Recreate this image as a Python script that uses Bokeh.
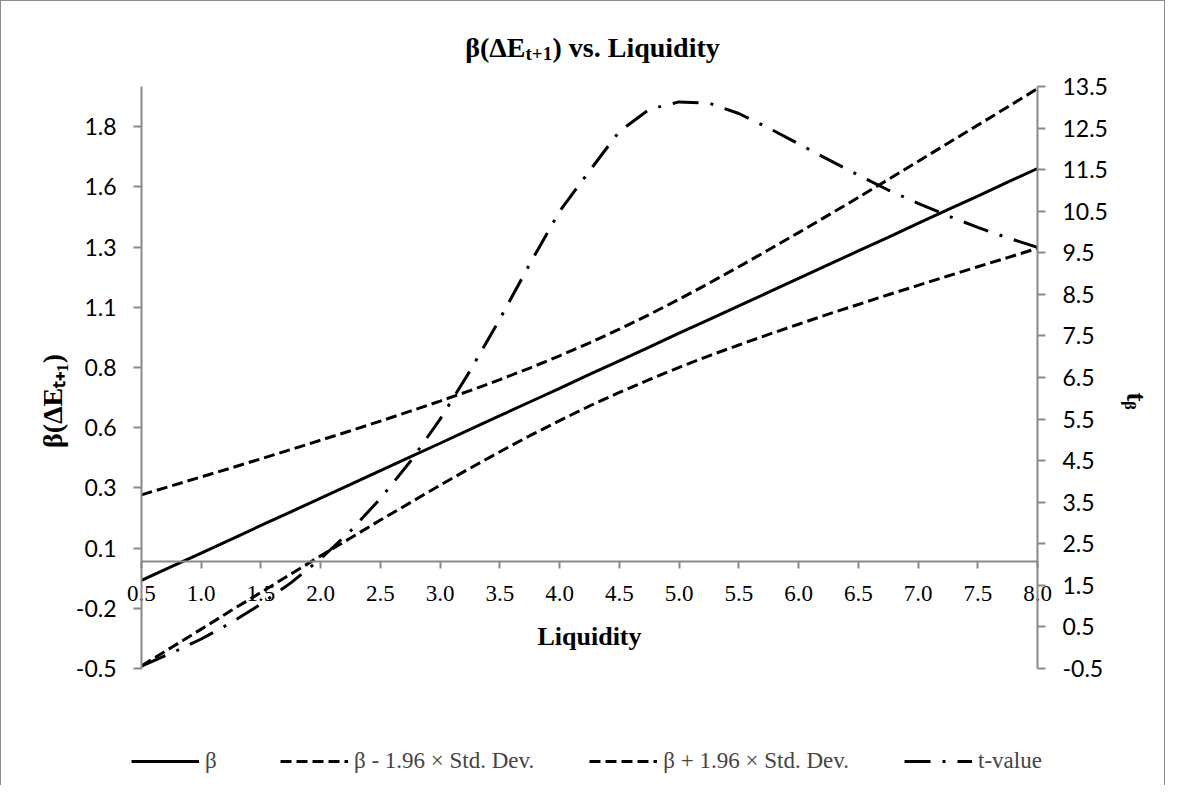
from bokeh.plotting import figure
from bokeh.models import (Range1d, LinearAxis, FixedTicker, Label, Legend,
                          LegendItem, PrintfTickFormatter)
from bokeh.embed import file_html
from bokeh.resources import INLINE

# ---------------- data ----------------
liquidity = [0.5, 0.75, 1.0, 1.25, 1.5, 1.75, 2.0, 2.25, 2.5, 2.75, 3.0, 3.25,
             3.5, 3.75, 4.0, 4.25, 4.5, 4.75, 5.0, 5.25, 5.5, 5.75, 6.0, 6.25,
             6.5, 6.75, 7.0, 7.25, 7.5, 7.75, 8.0]

beta = [-0.081, -0.023, 0.035, 0.093, 0.152, 0.210, 0.268, 0.326, 0.385, 0.443,
        0.501, 0.560, 0.618, 0.676, 0.734, 0.793, 0.851, 0.909, 0.968, 1.026,
        1.084, 1.142, 1.201, 1.259, 1.317, 1.375, 1.434, 1.492, 1.550, 1.609,
        1.667]

beta_lower = [-0.444, -0.366, -0.288, -0.209, -0.132, -0.054, 0.023, 0.099,
              0.175, 0.249, 0.323, 0.395, 0.465, 0.533, 0.597, 0.659, 0.717,
              0.771, 0.823, 0.872, 0.918, 0.963, 1.006, 1.049, 1.090, 1.131,
              1.171, 1.211, 1.250, 1.289, 1.328]

beta_upper = [0.282, 0.320, 0.358, 0.396, 0.435, 0.474, 0.514, 0.554, 0.595,
              0.637, 0.680, 0.724, 0.771, 0.820, 0.872, 0.927, 0.985, 1.047,
              1.112, 1.180, 1.250, 1.322, 1.395, 1.469, 1.544, 1.620, 1.697,
              1.774, 1.851, 1.928, 2.006]

t_value = [-0.44, -0.13, 0.21, 0.60, 1.05, 1.56, 2.14, 2.81, 3.59, 4.48, 5.50,
           6.66, 7.91, 9.23, 10.50, 11.47, 12.42, 12.95, 13.13, 13.10, 12.85,
           12.50, 12.12, 11.74, 11.37, 11.01, 10.69, 10.39, 10.11, 9.86, 9.63]

x_ticks = [0.5, 1.0, 1.5, 2.0, 2.5, 3.0, 3.5, 4.0, 4.5, 5.0, 5.5, 6.0, 6.5,
           7.0, 7.5, 8.0]
x_tick_labels = ["0.5", "1.0", "1.5", "2.0", "2.5", "3.0", "3.5", "4.0", "4.5",
                 "5.0", "5.5", "6.0", "6.5", "7.0", "7.5", "8.0"]

left_ticks = [-0.455, -0.1995, 0.056, 0.3115, 0.567, 0.8225, 1.078, 1.3335,
              1.589, 1.8445]
left_tick_labels = ["-0.5", "-0.2", "0.1", "0.3", "0.6", "0.8", "1.1", "1.3",
                    "1.6", "1.8"]

right_ticks = [-0.5, 0.5, 1.5, 2.5, 3.5, 4.5, 5.5, 6.5, 7.5, 8.5, 9.5, 10.5,
               11.5, 12.5, 13.5]

legend_labels = ["β", "β - 1.96 × Std. Dev.", "β + 1.96 × Std. Dev.", "t-value"]

title_parts = ["β(ΔE", "t+1", ") vs. Liquidity"]   # main, subscript, rest
x_title = "Liquidity"
left_title = "β(ΔEₜ₊₁)"
right_title = "tᵦ"

# ---------------- geometry (pixels / axis extents) ----------------
X_MIN, X_MAX = x_ticks[0], x_ticks[-1]
Y_MIN, Y_MAX = -0.455, 2.015          # left axis extent
T_MIN, T_MAX = -0.5, 13.5             # right axis extent
PLOT_L, PLOT_T = 148, 93               # page position of the plot area corner
PX_PER_X = 119.47                      # px per liquidity unit
PLOT_H = 582                           # plot-area height in px
PX_PER_Y = PLOT_H / (Y_MAX - Y_MIN)
PX_PER_T = PLOT_H / (T_MAX - T_MIN)
PAD_L, PAD_R = 18, 16                  # frame room left/right of the plot area
PAD_B = 106                            # frame room below the plot area (legend)
PAD_T = 59                             # frame room above the plot area (title)


def page_x(px):
    return X_MIN + (px - PLOT_L) / PX_PER_X


def page_y(py):
    return Y_MAX + (PLOT_T - py) / PX_PER_Y


GRAY = "#898989"
SERIF = "Liberation Serif"
SANS = "Lato"

p = figure(width=1165, height=785,
           x_range=Range1d(X_MIN - PAD_L / PX_PER_X, X_MAX + PAD_R / PX_PER_X),
           y_range=Range1d(Y_MIN - PAD_B / PX_PER_Y, Y_MAX + PAD_T / PX_PER_Y),
           output_backend="svg", toolbar_location=None,
           min_border_left=122, min_border_right=113, min_border_top=26,
           min_border_bottom=12, title=None)
p.extra_y_ranges = {"t": Range1d(T_MIN - PAD_B / PX_PER_T, T_MAX + PAD_T / PX_PER_T)}
p.xgrid.visible = False
p.ygrid.visible = False
p.outline_line_color = None
p.background_fill_color = "white"
p.border_fill_color = "white"
p.styles = {"border-left": "1px solid #8c8c8c", "border-top": "1px solid #8c8c8c",
            "border-right": "1px solid #8c8c8c"}


def style_line(ax, tick_out):
    ax.axis_line_color = GRAY
    ax.axis_line_width = 2
    ax.major_tick_line_color = GRAY
    ax.major_tick_line_width = 2
    ax.major_tick_out = tick_out
    ax.major_tick_in = 0
    ax.minor_tick_line_color = None


def style_labels(ax, font, standoff):
    ax.major_label_text_font = font
    ax.major_label_text_font_size = "23px"
    ax.major_label_text_color = "black"
    ax.major_label_standoff = standoff
    ax.axis_label_text_font = SERIF
    ax.axis_label_text_font_size = "28px"
    ax.axis_label_text_font_style = "bold"
    ax.axis_label_text_color = "black"


def labels_only(ax):
    ax.axis_line_color = None
    ax.major_tick_line_color = None
    ax.minor_tick_line_color = None
    ax.major_tick_out = 0
    ax.major_tick_in = 0


def no_labels(ax, ticks):
    ax.major_label_overrides = {t: "" for t in ticks}
    ax.major_label_text_font_size = "0px"
    ax.major_label_standoff = 0


# x axis line + ticks, crossing the left axis at 0
xa = p.xaxis[0]
xa.fixed_location = 0
xa.bounds = (X_MIN, X_MAX)
xa.ticker = FixedTicker(ticks=x_ticks)
style_line(xa, 7)
no_labels(xa, x_ticks)

# x tick labels (baseline 40 px under the x axis line)
xl = LinearAxis(fixed_location=-40 / PX_PER_Y, bounds=(X_MIN, X_MAX),
                ticker=FixedTicker(ticks=x_ticks),
                major_label_overrides=dict(zip(x_ticks, x_tick_labels)))
labels_only(xl)
style_labels(xl, SERIF, 0)
p.add_layout(xl, "above")

# left axis: labels + title on the panel axis, line + ticks on a fixed axis
ya = p.yaxis[0]
ya.ticker = FixedTicker(ticks=left_ticks)
ya.major_label_overrides = dict(zip(left_ticks, left_tick_labels))
ya.bounds = (Y_MIN, Y_MAX)
labels_only(ya)
style_labels(ya, SANS, 7)
ya.axis_label = left_title
ya.axis_label_standoff = 5

ya_line = LinearAxis(fixed_location=X_MIN, bounds=(Y_MIN, Y_MAX),
                     ticker=FixedTicker(ticks=left_ticks))
style_line(ya_line, 8)
no_labels(ya_line, left_ticks)
p.add_layout(ya_line, "left")

# right axis (t-value scale)
ra = LinearAxis(y_range_name="t", ticker=FixedTicker(ticks=right_ticks),
                formatter=PrintfTickFormatter(format="%.1f"),
                bounds=(T_MIN, T_MAX))
labels_only(ra)
style_labels(ra, SANS, 9)
ra.axis_label = right_title
ra.axis_label_standoff = 10
p.add_layout(ra, "right")

ra_line = LinearAxis(y_range_name="t", fixed_location=X_MAX,
                     bounds=(T_MIN, T_MAX), ticker=FixedTicker(ticks=right_ticks))
style_line(ra_line, 8)
no_labels(ra_line, right_ticks)
p.add_layout(ra_line, "right")

# ---------------- series ----------------
r_beta = p.line(liquidity, beta, line_color="black", line_width=3)
r_lo = p.line(liquidity, beta_lower, line_color="black", line_width=3,
              line_dash="11 5")
r_hi = p.line(liquidity, beta_upper, line_color="black", line_width=3,
              line_dash="11 5")
r_t = p.line(liquidity, t_value, line_color="black", line_width=3,
             line_dash="26 12 3 12", y_range_name="t")


# ---------------- texts ----------------
def lab(text, x, y, size, align, y_offset=0):
    p.add_layout(Label(x=x, y=y, y_offset=y_offset, text=text, text_font=SERIF,
                       text_font_size=size, text_font_style="bold",
                       text_align=align, text_baseline="alphabetic",
                       text_color="black"))


# title with a real subscript
lab(title_parts[0], page_x(532), page_y(54), "28px", "right")
lab(title_parts[1], page_x(532), page_y(60), "19px", "left")
lab(title_parts[2], page_x(559), page_y(54), "28px", "left")

# x axis title
lab(x_title, (X_MIN + X_MAX) / 2, 0, "26px", "center", y_offset=-75)

# ---------------- legend ----------------
legend = Legend(items=[LegendItem(label=legend_labels[0], renderers=[r_beta]),
                       LegendItem(label=legend_labels[1], renderers=[r_lo]),
                       LegendItem(label=legend_labels[2], renderers=[r_hi]),
                       LegendItem(label=legend_labels[3], renderers=[r_t])],
                orientation="horizontal", location=(8, 0))
legend.label_text_font = SERIF
legend.label_text_font_size = "23px"
legend.glyph_width = 68
legend.glyph_height = 26
legend.label_standoff = 6
legend.spacing = 55
legend.padding = 0
legend.margin = 0
legend.border_line_color = None
legend.background_fill_alpha = 0
p.add_layout(legend)

open("out.html", "w").write(file_html(p, INLINE))
